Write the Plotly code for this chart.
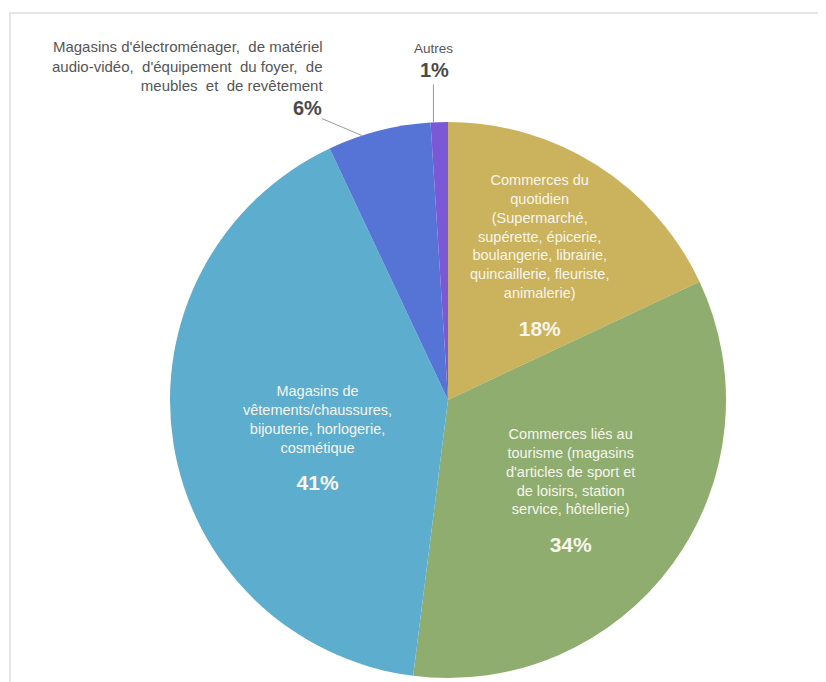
import math
import plotly.graph_objects as go

# ---- data ----
categories = [
    "Commerces du<br>quotidien<br>(Supermarché,<br>supérette, épicerie,<br>boulangerie, librairie,<br>quincaillerie, fleuriste,<br>animalerie)",
    "Commerces liés au<br>tourisme (magasins<br>d'articles de sport et<br>de loisirs, station<br>service, hôtellerie)",
    "Magasins de<br>vêtements/chaussures,<br>bijouterie, horlogerie,<br>cosmétique",
    "Magasins d'électroménager,  de matériel<br>audio-vidéo,  d'équipement  du foyer,  de<br>meubles  et  de revêtement",
    "Autres",
]
values = [18, 34, 41, 6, 1]
colors = ["#CBB25C", "#8FAD6F", "#5DADCF", "#5674D5", "#7B58D6"]

# ---- layout constants ----
OFF = 8                              # page body margin
W, H = 826 - OFF, 682 - OFF
CX, CY, R = 448, 400, 278            # pie centre / radius in window pixels
FONT = "Liberation Sans, Arial, sans-serif"

def to_paper(px, py):
    return (px - OFF) / W, 1 - (py - OFF) / H

def polar(angle_deg, rad):
    a = math.radians(angle_deg)
    return CX + rad * math.sin(a), CY - rad * math.cos(a)

total = sum(values)
mids = []
acc = 0
for v in values:
    mids.append((acc + v / 2) / total * 360)
    acc += v

dx0, dy0 = to_paper(CX - R, CY + R)
dx1, dy1 = to_paper(CX + R, CY - R)
fig = go.Figure(go.Pie(
    values=values,
    labels=[c.replace("<br>", " ") for c in categories],
    marker=dict(colors=colors, line=dict(width=0)),
    sort=False, direction="clockwise", rotation=0,
    textinfo="none", hoverinfo="label+percent",
    domain=dict(x=[dx0, dx1], y=[dy0, dy1]),
    showlegend=False,
))

annotations = []
shapes = []

# inside labels: (radius fraction, angle offset)
inside_style = {0: (0.615, 0.0), 1: (0.55, 0.7), 2: (0.49, -7.5)}
for i, (rf, da) in inside_style.items():
    px, py = polar(mids[i] + da, rf * R)
    x, y = to_paper(px, py)
    annotations.append(dict(
        x=x, y=y, xref="paper", yref="paper", xanchor="center", yanchor="middle",
        showarrow=False, align="center",
        text=categories[i] + "<br><br><span style='font-size:21px'><b>%d%%</b></span>" % values[i],
        font=dict(family=FONT, size=14.5, color="#F7F5EC"),
    ))

# outside labels: edge angle offset, leader end offset (px), label offsets
outside_style = {
    3: dict(da=-3.6, end=(-40, -17), align="right", xanchor="right",
            title_off=(3, -53), pct_off=(2, -11)),
    4: dict(da=-1.2, end=(0, -38), align="center", xanchor="center",
            title_off=(0, -36), pct_off=(1, -14)),
}
for i, st in outside_style.items():
    ex, ey = polar(mids[i] + st["da"], R)
    lx, ly = ex + st["end"][0], ey + st["end"][1]
    x0, y0 = to_paper(ex, ey)
    x1, y1 = to_paper(lx, ly)
    shapes.append(dict(type="line", xref="paper", yref="paper", x0=x0, y0=y0,
                       x1=x1, y1=y1, line=dict(color="#9a9a9a", width=1)))
    tx, ty = to_paper(lx + st["title_off"][0], ly + st["title_off"][1])
    annotations.append(dict(
        x=tx, y=ty, xref="paper", yref="paper", xanchor=st["xanchor"], yanchor="middle",
        showarrow=False, align=st["align"], text=categories[i],
        font=dict(family=FONT, size=15 if i == 3 else 13.5, color="#555555"),
    ))
    px_, py_ = to_paper(lx + st["pct_off"][0], ly + st["pct_off"][1])
    annotations.append(dict(
        x=px_, y=py_, xref="paper", yref="paper", xanchor=st["xanchor"], yanchor="middle",
        showarrow=False, text="<b>%d%%</b>" % values[i],
        font=dict(family=FONT, size=20, color="#4a4a4a"),
    ))

# light frame around the chart area
fx0, fy0 = to_paper(10, 13)
fx1, fy1 = to_paper(826 + 5, 682 + 5)
shapes.append(dict(type="rect", xref="paper", yref="paper", x0=fx0, y0=fy0, x1=fx1, y1=fy1,
                   line=dict(color="#dedede", width=1.5), layer="below"))

fig.update_layout(
    width=W, height=H,
    margin=dict(l=0, r=0, t=0, b=0),
    paper_bgcolor="white", plot_bgcolor="white",
    annotations=annotations, shapes=shapes,
)

fig.write_html("out.html")
